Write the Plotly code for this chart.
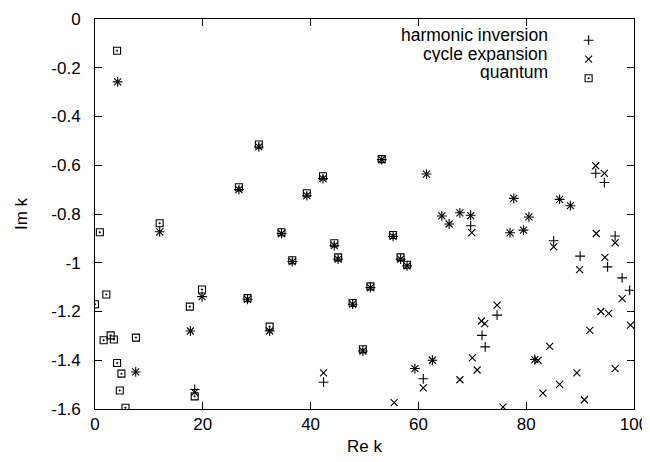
import plotly.graph_objects as go

# harmonic inversion (+)
hi_x = [4.2, 12.0, 26.7, 30.4, 34.6, 36.6, 39.3, 42.3, 44.4, 45.1, 47.8, 49.7, 51.1, 53.2,
        55.3, 56.7, 57.9, 28.3, 32.4, 19.85, 18.5, 17.7, 7.56, 42.4, 59.35, 60.9, 62.6, 61.5,
        64.35, 65.7, 67.7, 69.7, 69.7, 77.7, 80.5, 77.0, 79.5, 86.2, 88.2, 85.1, 90.0, 92.9,
        94.5, 96.5, 95.1, 97.8, 99.2, 74.6, 71.8, 72.4, 81.6]
hi_y = [-0.258, -0.873, -0.70, -0.525, -0.88, -0.995, -0.725, -0.655, -0.93, -0.985, -1.17,
        -1.362, -1.102, -0.577, -0.892, -0.985, -1.013, -1.15, -1.28, -1.139, -1.52, -1.28,
        -1.448, -1.49, -1.434, -1.476, -1.40, -0.636, -0.808, -0.841, -0.795, -0.805, -0.848,
        -0.736, -0.812, -0.877, -0.866, -0.74, -0.766, -0.91, -0.973, -0.633, -0.671, -0.89,
        -1.017, -1.062, -1.113, -1.215, -1.298, -1.345, -1.397]

# cycle expansion (x)
ce_x = [4.2, 12.0, 26.7, 30.4, 34.6, 36.6, 39.3, 42.3, 44.4, 45.1, 47.8, 49.7, 51.1, 53.2,
        55.3, 56.7, 57.9, 28.3, 32.4, 19.85, 18.5, 17.7, 7.56, 42.4, 59.35, 60.9, 62.6, 61.5,
        64.35, 65.7, 67.7, 69.7, 69.9, 77.7, 80.5, 77.0, 79.5, 86.2, 88.2, 85.1, 89.9, 92.9,
        94.5, 93.0, 96.5, 94.6, 97.8, 93.85, 95.3, 99.35, 91.8, 74.6, 71.7, 72.3, 70.0, 70.9,
        67.7, 55.5, 75.7, 84.35, 81.6, 82.2, 89.4, 96.5, 86.2, 83.1, 90.8]
ce_y = [-0.258, -0.873, -0.70, -0.525, -0.88, -0.995, -0.725, -0.655, -0.93, -0.985, -1.17,
        -1.362, -1.102, -0.577, -0.892, -0.985, -1.013, -1.15, -1.28, -1.139, -1.532, -1.28,
        -1.448, -1.452, -1.434, -1.513, -1.40, -0.636, -0.808, -0.841, -0.795, -0.807, -0.876,
        -0.736, -0.812, -0.877, -0.866, -0.74, -0.766, -0.935, -1.028, -0.602, -0.633, -0.88,
        -0.918, -0.978, -1.147, -1.20, -1.208, -1.256, -1.277, -1.174, -1.239, -1.25, -1.39,
        -1.44, -1.48, -1.574, -1.592, -1.343, -1.397, -1.40, -1.452, -1.434, -1.499, -1.535,
        -1.562]

# quantum (squares)
qu_x = [4.1, 0.9, 2.1, 0.0, 17.6, 1.6, 2.9, 3.5, 7.6, 4.1, 4.9, 4.6, 5.65, 12.0, 19.85, 18.5,
        26.7, 28.3, 30.4, 32.4, 34.6, 36.6, 39.3, 42.3, 44.4, 45.1, 47.8, 49.7, 51.1, 53.2,
        55.3, 56.7, 57.9]
qu_y = [-0.13, -0.875, -1.13, -1.17, -1.18, -1.318, -1.298, -1.315, -1.307, -1.411, -1.455,
        -1.524, -1.595, -0.838, -1.11, -1.548, -0.69, -1.145, -0.515, -1.262, -0.875, -0.99,
        -0.715, -0.645, -0.92, -0.978, -1.165, -1.355, -1.097, -0.575, -0.886, -0.978, -1.008]

names = ["harmonic inversion", "cycle expansion", "quantum"]
x_ticks = [0, 20, 40, 60, 80, 100]
y_ticks = [0, -0.2, -0.4, -0.6, -0.8, -1, -1.2, -1.4, -1.6]

FONT = "Liberation Sans, Arial, Helvetica, sans-serif"

styles = [
    dict(symbol="cross-thin", size=7, line=dict(width=1.1, color="black"), color="black"),
    dict(symbol="x-thin", size=7, line=dict(width=1.1, color="black"), color="black"),
    dict(symbol="square-open-dot", size=7, line=dict(width=1.1, color="black"), color="black"),
]

fig = go.Figure()
for (xs, ys), nm, st in zip([(hi_x, hi_y), (ce_x, ce_y), (qu_x, qu_y)], names, styles):
    fig.add_trace(go.Scatter(x=xs, y=ys, mode="markers", name=nm, marker=st, showlegend=False,
                             cliponaxis=True))

# legend keys (symbols only; text drawn to their left, gnuplot style)
for nm, st in zip(names, styles):
    fig.add_trace(go.Scatter(x=[None], y=[None], mode="markers", name="", marker=st,
                             showlegend=True, hoverinfo="skip"))

# page body has an 8px margin: work in figure coordinates
OFF = 8
W, H = 650 - OFF, 462 - OFF
L, R, T, B = 94.5 - OFF, 634.5 - OFF, 19.3 - OFF, 408.6 - OFF
PW, PH = R - L, B - T

legend_y = [35 - OFF, 53.3 - OFF, 71.7 - OFF]
for nm, ly in zip(names, legend_y):
    fig.add_annotation(text=nm, xref="paper", yref="paper", x=(550 - OFF - L) / PW,
                       y=1 - (ly - T) / PH, xanchor="right", yanchor="middle", height=17,
                       showarrow=False, font=dict(family=FONT, size=17.5, color="black"))

axis_common = dict(showgrid=False, zeroline=False, showline=True, linecolor="black",
                   linewidth=1, mirror="ticks", ticks="inside", ticklen=7, tickwidth=1,
                   tickcolor="black", tickfont=dict(family=FONT, size=17, color="black"),
                   automargin=False)

fig.update_xaxes(range=[0, 100], tickvals=x_ticks, ticktext=[str(v) for v in x_ticks],
                 title=dict(text="Re k", font=dict(family=FONT, size=17, color="black"), standoff=6),
                 **axis_common)
fig.update_yaxes(range=[-1.6, 0], tickvals=y_ticks, ticktext=[f"{v:g}" for v in y_ticks],
                 title=dict(text="Im k", font=dict(family=FONT, size=17, color="black"), standoff=19),
                 ticklabelstandoff=10, **axis_common)

fig.update_layout(
    width=W, height=H,
    margin=dict(l=L, r=W - R, t=T, b=H - B, autoexpand=False),
    plot_bgcolor="white", paper_bgcolor="white",
    legend=dict(x=(561 - L) / PW, y=1 - (18 - T) / PH, xanchor="left", yanchor="top",
                bgcolor="rgba(0,0,0,0)", font=dict(family=FONT, size=10, color="black"),
                tracegroupgap=0, itemwidth=30),
    font=dict(family=FONT, color="black"),
)

fig.write_html("out.html")
